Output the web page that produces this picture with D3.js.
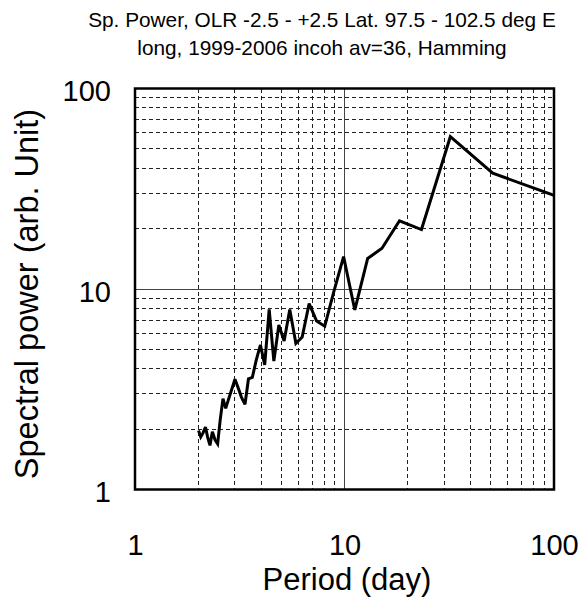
<!DOCTYPE html>
<html>
<head>
<meta charset="utf-8">
<script src="https://cdn.jsdelivr.net/npm/d3@7/dist/d3.min.js"></script>
<style>
  html, body { margin: 0; padding: 0; background: #fff; }
  svg { display: block; font-family: "Liberation Sans", Arial, Helvetica, sans-serif; }
</style>
</head>
<body>
<svg id="chart" width="588" height="601"></svg>
<script>
// Spectral power vs. period (days), OLR equatorial band
const periods = [2.01, 2.06, 2.11, 2.17, 2.22, 2.28, 2.34, 2.41, 2.48, 2.55,
                 2.63, 2.71, 2.80, 2.90, 3.00, 3.11, 3.22, 3.35, 3.48, 3.63,
                 3.79, 3.97, 4.16, 4.37, 4.60, 4.86, 5.15, 5.48, 5.86, 6.28,
                 6.78, 7.36, 8.05, 8.88, 9.90, 11.2, 12.9, 15.1, 18.3, 23.3,
                 32.0, 51.0, 100];
const power   = [1.97, 1.83, 1.91, 2.05, 1.83, 1.66, 1.94, 1.77, 1.69, 2.22,
                 2.84, 2.54, 2.83, 3.17, 3.55, 3.21, 2.89, 2.66, 3.56, 3.62,
                 4.42, 5.26, 4.18, 7.92, 4.37, 6.61, 5.50, 7.90, 5.36, 5.76,
                 8.45, 6.92, 6.52, 9.66, 14.5, 7.86, 14.2, 15.96, 21.9, 19.8,
                 57.5, 37.8, 29.3];

const decadeTicks = [1, 10, 100];
const minorTicks = [2, 3, 4, 5, 6, 7, 8, 9, 20, 30, 40, 50, 60, 70, 80, 90];

const titleLines = [
  "Sp. Power, OLR -2.5 - +2.5 Lat. 97.5 - 102.5 deg E",
  "long, 1999-2006 incoh av=36, Hamming"
];
const xTitle = "Period (day)";
const yTitle = "Spectral power (arb. Unit)";

const svg = d3.select("#chart");
const plot = { left: 135, top: 88.5, right: 554, bottom: 489.5 };

const x = d3.scaleLog().domain([1, 100]).range([plot.left, plot.right]);
const y = d3.scaleLog().domain([1, 100]).range([plot.bottom, plot.top]);

// Minor grid (dashed)
const grid = svg.append("g").attr("shape-rendering", "crispEdges");
grid.selectAll("line.vx").data(minorTicks).join("line")
  .attr("x1", d => x(d)).attr("x2", d => x(d))
  .attr("y1", plot.top).attr("y2", plot.bottom)
  .attr("stroke", "#222").attr("stroke-width", 1)
  .attr("stroke-dasharray", "4,3");
grid.selectAll("line.hy").data(minorTicks).join("line")
  .attr("x1", plot.left).attr("x2", plot.right)
  .attr("y1", d => y(d)).attr("y2", d => y(d))
  .attr("stroke", "#222").attr("stroke-width", 1)
  .attr("stroke-dasharray", "4,3");

// Decade grid (solid)
const mid = [10];
grid.selectAll("line.mvx").data(mid).join("line")
  .attr("x1", d => x(d)).attr("x2", d => x(d))
  .attr("y1", plot.top).attr("y2", plot.bottom)
  .attr("stroke", "#444").attr("stroke-width", 1);
grid.selectAll("line.mhy").data(mid).join("line")
  .attr("x1", plot.left).attr("x2", plot.right)
  .attr("y1", d => y(d)).attr("y2", d => y(d))
  .attr("stroke", "#444").attr("stroke-width", 1);

// Spectrum line
svg.append("clipPath").attr("id", "clip")
  .append("rect")
  .attr("x", plot.left).attr("y", plot.top)
  .attr("width", plot.right - plot.left).attr("height", plot.bottom - plot.top);

const line = d3.line()
  .x((d, i) => x(periods[i]))
  .y(d => y(d));

svg.append("path")
  .attr("clip-path", "url(#clip)")
  .attr("d", line(power))
  .attr("fill", "none")
  .attr("stroke", "#000")
  .attr("stroke-width", 3)
  .attr("stroke-linejoin", "miter")
  .attr("stroke-miterlimit", 3);

// Frame
svg.append("rect")
  .attr("x", plot.left).attr("y", plot.top)
  .attr("width", plot.right - plot.left).attr("height", plot.bottom - plot.top)
  .attr("fill", "none").attr("stroke", "#000").attr("stroke-width", 2.5);

// Axes (labels only; the frame is drawn above)
const xAxis = d3.axisBottom(x).tickValues(decadeTicks).tickFormat(d3.format("d")).tickSize(0).tickPadding(0);
const gx = svg.append("g").attr("transform", `translate(0,${plot.bottom + 55})`).call(xAxis);
gx.select(".domain").remove();
gx.selectAll("text").attr("font-size", 29).attr("fill", "#000")
  .attr("font-family", "Liberation Sans, Arial, sans-serif")
  .attr("dy", "0.36em").attr("y", 0);

const yAxis = d3.axisLeft(y).tickValues(decadeTicks).tickFormat(d3.format("d")).tickSize(0).tickPadding(0);
const gy = svg.append("g").attr("transform", `translate(${plot.left - 24},0)`).call(yAxis);
gy.select(".domain").remove();
gy.selectAll("text").attr("font-size", 29).attr("fill", "#000")
  .attr("font-family", "Liberation Sans, Arial, sans-serif")
  .attr("dy", "0.42em");

// Titles
svg.selectAll("text.title").data(titleLines).join("text")
  .attr("class", "title")
  .attr("x", 322).attr("y", (d, i) => 27 + i * 28)
  .attr("text-anchor", "middle")
  .attr("font-size", 20.8)
  .text(d => d);

svg.append("text")
  .attr("x", 347).attr("y", 590)
  .attr("text-anchor", "middle")
  .attr("font-size", 31)
  .text(xTitle);

svg.append("text")
  .attr("transform", `translate(38,294) rotate(-90)`)
  .attr("text-anchor", "middle")
  .attr("font-size", 32.5)
  .text(yTitle);
</script>
</body>
</html>
